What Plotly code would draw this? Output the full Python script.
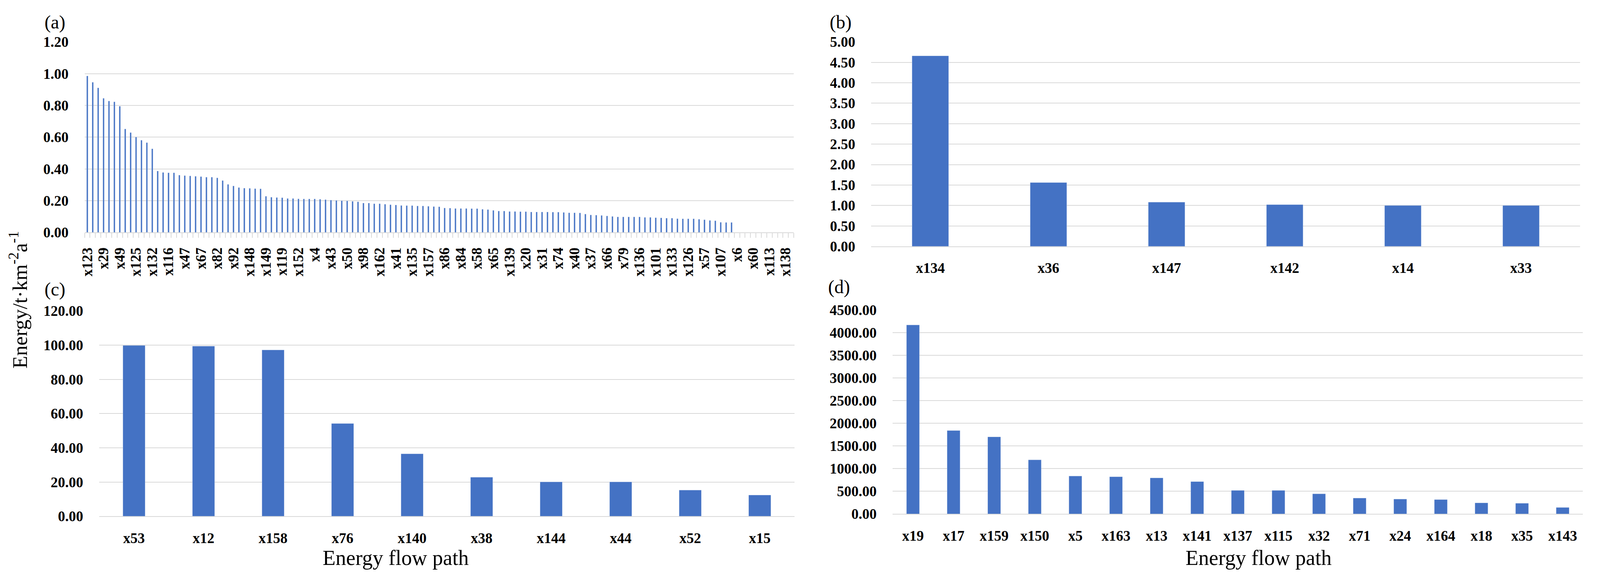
import plotly.graph_objects as go

W, H = 4450, 1483
BLUE = "#4472C4"
GRID = "#D9D9D9"
FONT = "Liberation Serif"

# (a) every third category carries a visible label
a_labels = ["x123", "x29", "x49", "x125", "x132", "x116", "x47", "x67", "x82", "x92",
            "x148", "x149", "x119", "x152", "x4", "x43", "x50", "x98", "x162", "x41",
            "x135", "x157", "x86", "x84", "x58", "x65", "x139", "x20", "x31", "x74",
            "x40", "x37", "x66", "x79", "x136", "x101", "x133", "x126", "x57", "x107",
            "x6", "x60", "x113", "x138"]
a_values = [0.986, 0.946, 0.911, 0.845, 0.828, 0.823, 0.795, 0.652, 0.629, 0.601,
            0.581, 0.566, 0.527, 0.387, 0.378, 0.376, 0.376, 0.361, 0.358, 0.356,
            0.354, 0.352, 0.348, 0.348, 0.344, 0.327, 0.303, 0.293, 0.283, 0.279,
            0.278, 0.276, 0.275, 0.228, 0.222, 0.220, 0.219, 0.214, 0.214, 0.212,
            0.211, 0.211, 0.211, 0.209, 0.207, 0.204, 0.202, 0.200, 0.199, 0.196,
            0.193, 0.185, 0.185, 0.181, 0.181, 0.178, 0.175, 0.173, 0.170, 0.169,
            0.169, 0.167, 0.167, 0.165, 0.163, 0.162, 0.154, 0.153, 0.151, 0.151,
            0.151, 0.150, 0.150, 0.146, 0.144, 0.139, 0.135, 0.135, 0.132, 0.132,
            0.131, 0.131, 0.129, 0.129, 0.129, 0.129, 0.128, 0.128, 0.126, 0.124,
            0.124, 0.123, 0.116, 0.110, 0.109, 0.107, 0.104, 0.101, 0.098, 0.098,
            0.098, 0.098, 0.098, 0.095, 0.095, 0.093, 0.092, 0.090, 0.090, 0.087,
            0.086, 0.086, 0.086, 0.083, 0.080, 0.076, 0.074, 0.064, 0.063, 0.063,
            0, 0, 0, 0, 0, 0, 0, 0, 0, 0, 0]

# (b)
b_paths = ["x134", "x36", "x147", "x142", "x14", "x33"]
b_values = [4.66, 1.56, 1.08, 1.02, 1.00, 1.00]

# (c)
c_paths = ["x53", "x12", "x158", "x76", "x140", "x38", "x144", "x44", "x52", "x15"]
c_values = [99.8, 99.4, 97.2, 54.2, 36.5, 22.8, 20.1, 20.1, 15.3, 12.4]

# (d)
d_paths = ["x19", "x17", "x159", "x150", "x5", "x163", "x13", "x141", "x137",
           "x115", "x32", "x71", "x24", "x164", "x18", "x35", "x143"]
d_values = [4174, 1843, 1703, 1195, 839, 822, 797, 716, 521, 521, 445, 352, 330,
            318, 246, 237, 144]


def px(x):
    return x / W


def py(y):
    return 1 - y / H


tick_font = dict(family=FONT, size=37, color="black", weight="bold")

fig = go.Figure()

a_x = list(range(len(a_values)))
fig.add_trace(go.Bar(x=a_x, y=a_values, marker_color=BLUE, width=0.27,
                     xaxis="x", yaxis="y", showlegend=False))
fig.add_trace(go.Bar(x=b_paths, y=b_values, marker_color=BLUE, width=0.31,
                     xaxis="x2", yaxis="y2", showlegend=False))
fig.add_trace(go.Bar(x=c_paths, y=c_values, marker_color=BLUE, width=0.32,
                     xaxis="x3", yaxis="y3", showlegend=False))
fig.add_trace(go.Bar(x=d_paths, y=d_values, marker_color=BLUE, width=0.32,
                     xaxis="x4", yaxis="y4", showlegend=False))

common_x = dict(showline=True, linecolor=GRID, linewidth=2, showgrid=False,
                zeroline=False, tickfont=tick_font, ticks="", ticklabelstandoff=22)
common_y = dict(showline=False, showgrid=True, gridcolor=GRID, gridwidth=2,
                zeroline=False, tickfont=tick_font, tickformat=".2f", ticks="",
                ticklabelstandoff=40)

fig.update_layout(
    autosize=True,
    margin=dict(l=0, r=0, t=0, b=0),
    paper_bgcolor="white", plot_bgcolor="white",
    font=dict(family=FONT, color="black"),
    xaxis=dict(common_x, domain=[px(213), px(2200)], anchor="y",
               range=[-0.5, len(a_values) - 0.5],
               tickmode="array", tickvals=a_x[::3], ticktext=a_labels,
               tickangle=-90,
               minor=dict(ticks="outside", ticklen=12, tickwidth=2, tickcolor=GRID,
                          tick0=-0.5, dtick=1, showgrid=False)),
    yaxis=dict(common_y, domain=[py(590), py(82.6)], anchor="x",
               range=[0, 1.2], dtick=0.2),
    xaxis2=dict(common_x, domain=[px(2417), px(4403)], anchor="y2"),
    yaxis2=dict(common_y, domain=[py(627), py(82.6)], anchor="x2",
                range=[0, 5], dtick=0.5),
    xaxis3=dict(common_x, domain=[px(254), px(2202)], anchor="y3"),
    yaxis3=dict(common_y, domain=[py(1346), py(799)], anchor="x3",
                range=[0, 120], dtick=20),
    xaxis4=dict(common_x, domain=[px(2477), px(4411)], anchor="y4"),
    yaxis4=dict(common_y, domain=[py(1340), py(797)], anchor="x4",
                range=[0, 4500], dtick=500),
)

# panel letters
for txt, x, y in [("(a)", 130, 30), ("(b)", 2331, 30), ("(c)", 130, 742), ("(d)", 2327, 735)]:
    fig.add_annotation(text=txt, x=px(x), y=py(y), xref="paper", yref="paper",
                       xanchor="center", yanchor="middle", showarrow=False,
                       font=dict(family=FONT, size=48, color="black"))

# axis titles
fig.add_annotation(text="Energy/t·km<sup>-2</sup>a<sup>-1</sup>", x=px(28), y=py(770),
                   xref="paper", yref="paper", xanchor="center", yanchor="middle",
                   showarrow=False, textangle=-90,
                   font=dict(family=FONT, size=53, color="black"))
for x in [1085, 3502]:
    fig.add_annotation(text="Energy flow path", x=px(x), y=py(1457),
                       xref="paper", yref="paper", xanchor="center", yanchor="middle",
                       showarrow=False, font=dict(family=FONT, size=54, color="black"))

fig.write_html("out.html")
